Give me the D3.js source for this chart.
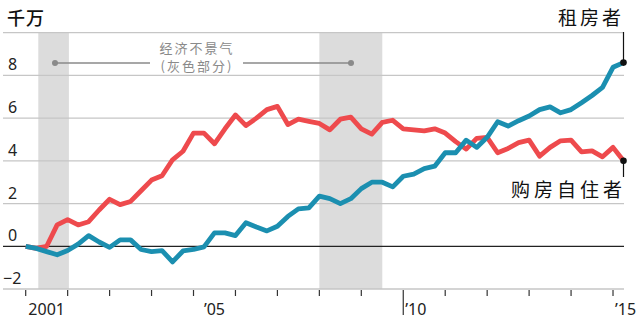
<!DOCTYPE html>
<html><head><meta charset="utf-8">
<script src="https://cdn.jsdelivr.net/npm/d3@7"></script>
<style>
html,body{margin:0;padding:0;background:#fff;}
svg{display:block;}
text{font-family:"Noto Sans","Open Sans",sans-serif;}
.cjk{font-family:"Noto Sans CJK SC","Noto Sans",sans-serif;}
</style></head>
<body>
<svg id="chart" width="640" height="329"></svg>
<script>
// ---- data ----
const startYear = 2001;
const quarters = [];
for (let y = 2001; y <= 2015; y++) for (let q = 1; q <= 4; q++) quarters.push(y + "Q" + q);
quarters.length = 58; // 2001Q1 .. 2015Q2

const owners = [0, -0.1, 0.0, 1.0, 1.25, 1.0, 1.15, 1.7, 2.2, 1.95,
  2.1, 2.6, 3.1, 3.3, 4.05, 4.45, 5.3, 5.3, 4.8, 5.5,
  6.15, 5.65, 6.0, 6.4, 6.55, 5.7, 5.95, 5.85, 5.75, 5.45,
  5.95, 6.05, 5.5, 5.25, 5.8, 5.9, 5.5, 5.45, 5.4, 5.5,
  5.3, 4.9, 4.55, 5.05, 5.1, 4.38, 4.58, 4.85, 4.97, 4.22,
  4.63, 4.94, 4.97, 4.42, 4.47, 4.19, 4.63, 4.0];

const renters = [0, -0.1, -0.25, -0.4, -0.2, 0.1, 0.5, 0.2, -0.05, 0.3,
  0.3, -0.15, -0.25, -0.2, -0.73, -0.22, -0.15, -0.03, 0.63, 0.63,
  0.5, 1.1, 0.9, 0.72, 0.94, 1.4, 1.75, 1.8, 2.35, 2.23,
  2.0, 2.23, 2.7, 3.0, 3.0, 2.78, 3.28, 3.38, 3.64, 3.75,
  4.38, 4.38, 4.97, 4.63, 5.1, 5.83, 5.63, 5.88, 6.1, 6.4,
  6.53, 6.25, 6.4, 6.72, 7.06, 7.44, 8.38, 8.6];

const yTicks = [-2, 0, 2, 4, 6, 8, 10];
const yTickLabels = ["−2", "0", "2", "4", "6", "8", ""];
const xTickYears = [2001,2002,2003,2004,2005,2006,2007,2008,2009,2010,2011,2012,2013,2014,2015];
const xLabelYears = [2001, 2005, 2010, 2015];
const xLabels = ["2001", "’05", "’10", "’15"];
const recessions = [[2001.3, 2002.03], [2008.0, 2009.5]];

const unitLabel = "千万";
const renterLabel = "租房者";
const ownerLabel = "购房自住者";
const recessionLabel1 = "经济不景气";
const recessionLabel2 = "(灰色部分)";

// ---- layout ----
const svg = d3.select("#chart");
const x = d3.scaleLinear().domain([2001, 2015.25]).range([25.7, 623.5]);
const y = d3.scaleLinear().domain([-2, 10]).range([289, 32.7]);
const qYear = i => startYear + i * 0.25;

const redC = "#ee4a4d", blueC = "#1b8fb0";

// recession bands
svg.append("g").selectAll("rect").data(recessions).join("rect")
  .attr("x", d => x(d[0])).attr("width", d => x(d[1]) - x(d[0]))
  .attr("y", y(10)).attr("height", y(-2) - y(10))
  .attr("fill", "#dcdcdc");

// gridlines
svg.append("g").selectAll("line").data(yTicks.filter(v => v !== 0)).join("line")
  .attr("x1", 3).attr("x2", 624)
  .attr("y1", d => y(d)).attr("y2", d => y(d))
  .attr("stroke", "#c6c6c6").attr("stroke-width", 1.3);

// y labels
svg.append("g").selectAll("text").data(yTicks).join("text")
  .attr("x", (d) => d < 0 ? 3 : 8).attr("y", d => y(d) - 5)
  .attr("font-size", 16).attr("fill", "#222")
  .text((d, i) => yTickLabels[i]);

// x ticks
const xa = svg.append("g");
xa.selectAll("line").data(xTickYears).join("line")
  .attr("x1", d => x(d)).attr("x2", d => x(d))
  .attr("y1", 290).attr("y2", d => d === 2010 ? 315 : 296)
  .attr("stroke", "#333").attr("stroke-width", 1.2);
xa.selectAll("text").data(xLabelYears).join("text")
  .attr("x", (d) => d >= 2010 ? x(d) + 2 : x(d + 0.5))
  .attr("text-anchor", d => d >= 2010 ? "start" : "middle")
  .attr("y", 315).attr("font-size", 16).attr("fill", "#222")
  .text((d, i) => xLabels[i]);

// zero line
svg.append("line").attr("x1", 3).attr("x2", 624)
  .attr("y1", y(0)).attr("y2", y(0))
  .attr("stroke", "#222").attr("stroke-width", 1.3);

// lines
const line = d3.line().x((d, i) => x(qYear(i))).y(d => y(d)).curve(d3.curveLinear);
svg.append("path").datum(owners).attr("d", line)
  .attr("fill", "none").attr("stroke", redC).attr("stroke-width", 4.8)
  .attr("stroke-linejoin", "round");
svg.append("path").datum(renters).attr("d", line)
  .attr("fill", "none").attr("stroke", blueC).attr("stroke-width", 4.8)
  .attr("stroke-linejoin", "round");

// end markers
const last = quarters.length - 1;
const ex = x(qYear(last));
svg.append("line").attr("x1", ex).attr("x2", ex)
  .attr("y1", y(renters[last])).attr("y2", 32)
  .attr("stroke", "#111").attr("stroke-width", 1.2);
svg.append("line").attr("x1", ex).attr("x2", ex)
  .attr("y1", y(owners[last])).attr("y2", 177)
  .attr("stroke", "#111").attr("stroke-width", 1.2);
svg.append("circle").attr("cx", ex).attr("cy", y(renters[last])).attr("r", 3.3).attr("fill", "#111");
svg.append("circle").attr("cx", ex).attr("cy", y(owners[last])).attr("r", 3.3).attr("fill", "#111");

// labels
svg.append("text").attr("class", "cjk").attr("x", 7).attr("y", 25)
  .attr("font-size", 18).attr("font-weight", 500).attr("letter-spacing", 1).attr("fill", "#111").text(unitLabel);
svg.append("text").attr("class", "cjk").attr("x", 624).attr("y", 25)
  .attr("text-anchor", "end").attr("font-size", 19).attr("letter-spacing", 3).attr("fill", "#111").text(renterLabel);
svg.append("text").attr("class", "cjk").attr("x", 626).attr("y", 197)
  .attr("text-anchor", "end").attr("font-size", 19).attr("letter-spacing", 4).attr("fill", "#111").text(ownerLabel);

// recession annotation
const ann = svg.append("g");
const ay = 63;
ann.append("line").attr("x1", 55).attr("x2", 150).attr("y1", ay).attr("y2", ay).attr("stroke", "#8a8a8a").attr("stroke-width", 1.3);
ann.append("line").attr("x1", 243).attr("x2", 351).attr("y1", ay).attr("y2", ay).attr("stroke", "#8a8a8a").attr("stroke-width", 1.3);
ann.append("circle").attr("cx", 55).attr("cy", ay).attr("r", 3).attr("fill", "#8a8a8a");
ann.append("circle").attr("cx", 351).attr("cy", ay).attr("r", 3).attr("fill", "#8a8a8a");
ann.append("text").attr("class", "cjk").attr("x", 197).attr("y", 53)
  .attr("text-anchor", "middle").attr("font-size", 13).attr("letter-spacing", 2).attr("fill", "#8a8a8a").text(recessionLabel1);
ann.append("text").attr("class", "cjk").attr("x", 197).attr("y", 71)
  .attr("text-anchor", "middle").attr("font-size", 13).attr("letter-spacing", 2).attr("fill", "#8a8a8a").text(recessionLabel2);
</script>
</body></html>
